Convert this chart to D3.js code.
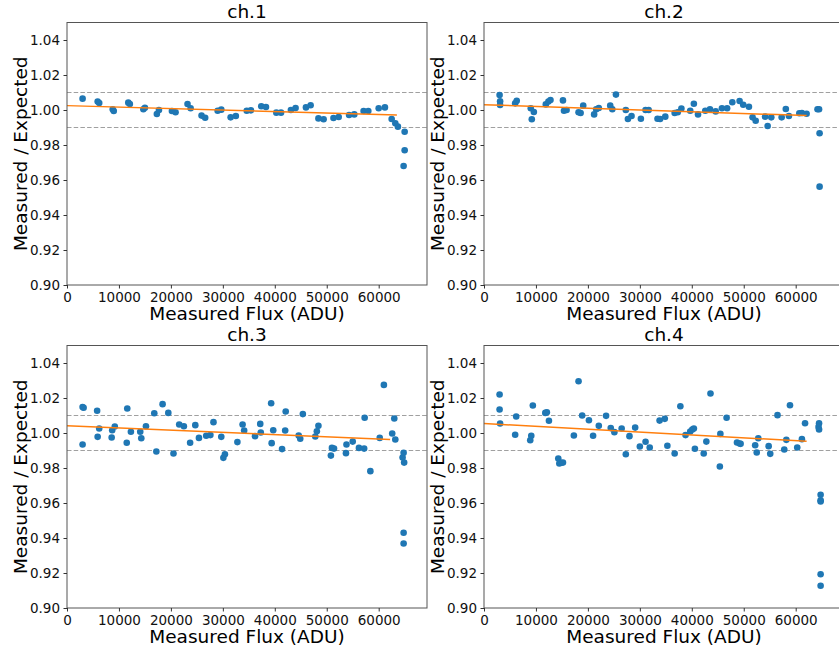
<!DOCTYPE html>
<html>
<head>
<meta charset="utf-8">
<script src="https://cdn.jsdelivr.net/npm/d3@7"></script>
<style>
  body { margin: 0; background: #fff; }
  svg { display: block; font-family: "DejaVu Sans", sans-serif; }
</style>
</head>
<body>
<svg id="chart" width="839" height="655"></svg>
<script>
// measured flux (ADU), measured / expected
const ch1Points = [[3000,1.0065],[5900,1.0048],[6200,1.0040],[8800,1.0004],[9000,0.9994],[11800,1.0042],[12100,1.0034],[14700,1.0004],[15000,1.0013],[17300,0.9977],[17700,1.0000],[20200,0.9994],[20900,0.9987],[23200,1.0034],[23800,1.0010],[25900,0.9968],[26600,0.9956],[29000,0.9996],[29700,1.0002],[31500,0.9958],[32500,0.9966],[34600,0.9996],[35400,0.9998],[37400,1.0021],[38300,1.0017],[40300,0.9985],[41200,0.9985],[43100,1.0000],[44000,1.0011],[46000,1.0015],[46900,1.0027],[48400,0.9952],[49400,0.9947],[51300,0.9954],[52300,0.9960],[54300,0.9971],[55300,0.9975],[57100,0.9994],[58000,0.9994],[60000,1.0010],[61200,1.0015],[62500,0.9949],[63200,0.9924],[63700,0.9905],[65000,0.9876],[65000,0.9770],[64800,0.9680]];

const ch2Points = [[3000,1.0086],[3100,1.0050],[3100,1.0029],[6000,1.0038],[6300,1.0053],[9000,1.0010],[9200,0.9947],[9600,0.9989],[11900,1.0032],[12400,1.0048],[12800,1.0057],[15200,1.0055],[15400,0.9996],[15900,1.0000],[18200,0.9987],[18600,0.9983],[19100,1.0025],[21200,0.9975],[21600,1.0004],[22100,1.0011],[24300,1.0025],[24700,1.0004],[25400,1.0088],[27300,1.0000],[27700,0.9949],[28400,0.9966],[30200,0.9950],[31100,1.0000],[31700,1.0000],[33400,0.9950],[33900,0.9949],[34900,0.9962],[36700,0.9983],[37300,0.9987],[38000,1.0008],[39700,0.9996],[40400,1.0036],[41200,0.9975],[42600,0.9996],[43500,1.0004],[44600,0.9992],[45800,1.0010],[46800,1.0010],[47800,1.0044],[49200,1.0051],[49900,1.0030],[51000,1.0019],[51700,0.9958],[52300,0.9939],[54100,0.9962],[54600,0.9909],[55300,0.9958],[57300,0.9958],[58100,1.0006],[58700,0.9966],[60700,0.9981],[61200,0.9983],[62100,0.9979],[64200,1.0004],[64500,1.0004],[64600,0.9867],[64600,0.9562]];

const ch3Points = [[3000,0.9934],[3000,1.0148],[3200,1.0144],[5800,1.0127],[5900,0.9978],[6200,1.0026],[8600,0.9974],[8700,1.0016],[9200,1.0037],[11500,0.9944],[11600,1.0140],[12300,1.0007],[14100,1.0007],[14300,0.9970],[15200,1.0039],[16800,1.0113],[17200,0.9894],[18400,1.0165],[19500,1.0115],[20500,0.9883],[21600,1.0049],[22500,1.0039],[23700,0.9944],[24700,1.0045],[25400,0.9972],[26800,0.9984],[27600,0.9988],[28200,1.0062],[29700,0.9978],[30100,0.9858],[30400,0.9879],[32800,0.9948],[33800,1.0049],[34100,1.0014],[36200,0.9982],[37200,1.0052],[37300,1.0003],[39300,1.0170],[39400,0.9942],[39700,1.0016],[41400,0.9908],[42100,1.0123],[42000,1.0014],[44600,0.9986],[44900,0.9967],[45400,1.0108],[47800,0.9980],[48100,1.0010],[48400,1.0041],[50800,0.9871],[51000,0.9915],[51400,0.9911],[53700,0.9885],[53800,0.9934],[55000,0.9951],[56200,0.9915],[57200,0.9911],[57300,1.0087],[58400,0.9782],[60200,0.9972],[61000,1.0275],[62600,0.9997],[63000,1.0083],[63200,0.9963],[64600,0.9860],[64800,0.9887],[64900,0.9831],[64800,0.9430],[64800,0.9369]];

const ch4Points = [[3000,1.0220],[3000,1.0134],[3100,1.0054],[6000,0.9990],[6200,1.0094],[8900,0.9959],[9100,0.9984],[9400,1.0157],[11800,1.0115],[12100,1.0119],[12500,1.0070],[14300,0.9854],[14500,0.9826],[14800,0.9830],[15200,0.9831],[17300,0.9986],[18200,1.0296],[18900,1.0100],[20200,1.0073],[21000,0.9984],[22100,1.0041],[23500,1.0098],[24400,1.0028],[25100,1.0005],[26500,1.0026],[27300,0.9879],[28000,0.9982],[29100,1.0031],[30000,0.9923],[31100,0.9950],[31900,0.9917],[33800,1.0071],[34800,1.0081],[35300,0.9927],[36700,0.9883],[37800,1.0153],[38800,0.9988],[39700,1.0009],[40100,1.0020],[40400,1.0026],[40600,0.9910],[42300,0.9883],[42800,0.9951],[43600,1.0226],[45400,0.9809],[45500,0.9995],[46700,1.0087],[48700,0.9946],[49200,0.9940],[49400,0.9938],[52200,0.9930],[52500,0.9889],[52800,0.9970],[54800,0.9925],[55100,0.9881],[56500,1.0102],[57800,0.9906],[58200,0.9961],[58900,1.0159],[60300,0.9917],[61200,0.9965],[61800,1.0056],[64500,1.0056],[64400,1.0035],[64500,1.0020],[64800,0.9647],[64800,0.9616],[64800,0.9609],[64800,0.9193],[64800,0.9127]];

// linear fit end points per channel
const fitLines = [
  [[0,1.0025],[63500,0.9971]],
  [[0,1.0030],[62100,0.9968]],
  [[0,1.0041],[62200,0.9963]],
  [[0,1.0054],[62100,0.9953]]
];

const channelNames = ["ch.1", "ch.2", "ch.3", "ch.4"];
const xTicks = [0, 10000, 20000, 30000, 40000, 50000, 60000];
const yTicks = [0.90, 0.92, 0.94, 0.96, 0.98, 1.00, 1.02, 1.04];
const limitLines = [1.01, 0.99];

const allPoints = [ch1Points, ch2Points, ch3Points, ch4Points];

const svg = d3.select("#chart");
const W = 360, H = 262.5;
const origins = [[67, 22.5], [484, 22.5], [67, 345.5], [484, 345.5]];

const x = d3.scaleLinear().domain([0, 69300]).range([0, W]);
const y = d3.scaleLinear().domain([0.90, 1.05]).range([H, 0]);

allPoints.forEach((pts, i) => {
  const [ox, oy] = origins[i];
  const g = svg.append("g").attr("transform", `translate(${ox},${oy})`);

  // dashed +-1% lines
  g.selectAll("line.limit")
    .data(limitLines)
    .join("line")
    .attr("class", "limit")
    .attr("x1", 0).attr("x2", W)
    .attr("y1", d => y(d)).attr("y2", d => y(d))
    .attr("stroke", "#a0a0a0")
    .attr("stroke-width", 1.2)
    .attr("stroke-dasharray", "4.5,2.2");

  // scatter
  g.selectAll("circle")
    .data(pts)
    .join("circle")
    .attr("cx", d => x(d[0]))
    .attr("cy", d => y(d[1]))
    .attr("r", 3.3)
    .attr("fill", "#1f77b4");

  // fit line
  g.append("path")
    .datum(fitLines[i])
    .attr("d", d3.line().x(d => x(d[0])).y(d => y(d[1])))
    .attr("fill", "none")
    .attr("stroke", "#ff7f0e")
    .attr("stroke-width", 1.5);

  // frame
  g.append("rect")
    .attr("width", W).attr("height", H)
    .attr("fill", "none")
    .attr("stroke", "#555")
    .attr("stroke-width", 1);

  const xAxis = g.append("g")
    .attr("transform", `translate(0,${H})`)
    .call(d3.axisBottom(x).tickValues(xTicks).tickFormat(d3.format("d"))
      .tickSize(3.5).tickPadding(3.5));
  const yAxis = g.append("g")
    .call(d3.axisLeft(y).tickValues(yTicks).tickFormat(d3.format(".2f"))
      .tickSize(3.5).tickPadding(3.5));

  [xAxis, yAxis].forEach(a => {
    a.select(".domain").remove();
    a.selectAll("line").attr("stroke", "#333");
    a.selectAll("text")
      .attr("fill", "#111")
      .style("font-family", "DejaVu Sans")
      .style("font-size", "13.5px");
  });

  g.append("text")
    .attr("x", W / 2).attr("y", -4.5)
    .attr("text-anchor", "middle")
    .style("font-size", "18.5px")
    .text(channelNames[i]);

  g.append("text")
    .attr("x", W / 2).attr("y", H + 35)
    .attr("text-anchor", "middle")
    .style("font-size", "18.5px")
    .text("Measured Flux (ADU)");

  g.append("text")
    .attr("transform", `translate(-40,${H / 2}) rotate(-90)`)
    .attr("text-anchor", "middle")
    .style("font-size", "18.5px")
    .text("Measured / Expected");
});
</script>
</body>
</html>
